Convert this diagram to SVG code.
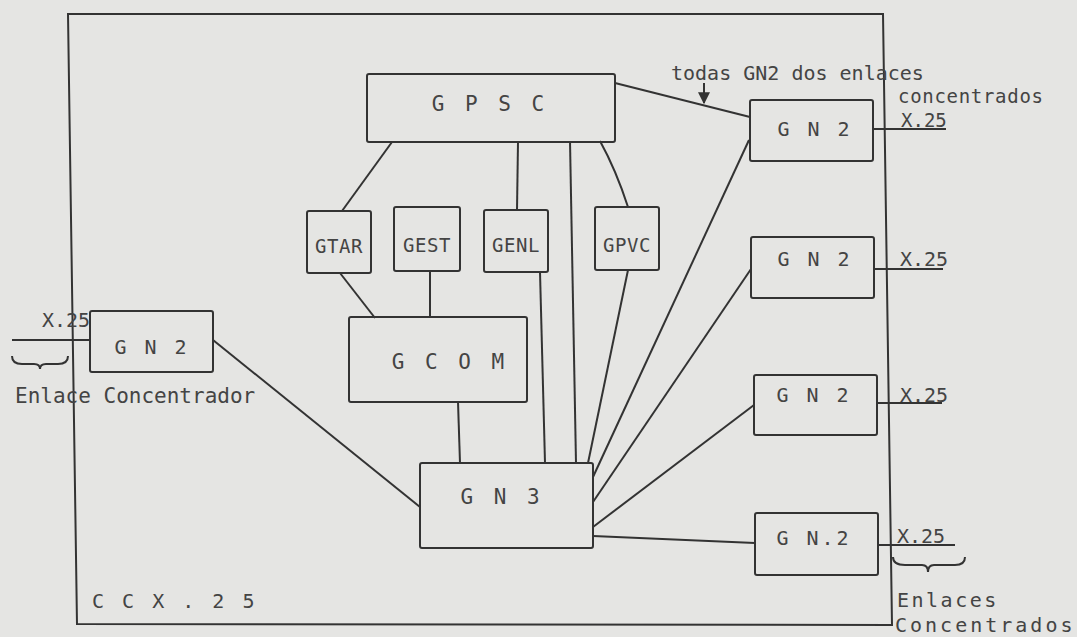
<svg xmlns="http://www.w3.org/2000/svg" width="1077" height="637" viewBox="0 0 1077 637">
<defs>
<style>
.bg{fill:#e5e5e3}
.box{fill:none;stroke:#333;stroke-width:2}
.ln{fill:none;stroke:#333;stroke-width:2}
.t{font-family:"DejaVu Sans Mono","Liberation Mono",monospace;fill:#444}
.big{font-size:21px;letter-spacing:4px;text-anchor:middle}
.gn2{font-size:20px;letter-spacing:3px;text-anchor:middle}
.sm{font-size:19px;letter-spacing:0.5px;text-anchor:middle}
.lab{font-size:20px}
</style>
<marker id="ah" viewBox="0 0 10 10" refX="9" refY="5" markerWidth="6" markerHeight="6" orient="auto">
<path d="M0,0 L10,5 L0,10 z" fill="#333"/>
</marker>
</defs>
<rect class="bg" x="0" y="0" width="1077" height="637"/>
<g id="frame">
<path class="ln" d="M68,14 L883,14 L892,625 L77,624 Z"/>
<text class="t lab" x="92" y="608" style="letter-spacing:3px">C C X . 2 5</text>
</g>
<g id="connectors">
<line class="ln" x1="615" y1="83" x2="750" y2="117"/>
<line class="ln" x1="392" y1="142" x2="342" y2="211"/>
<line class="ln" x1="518" y1="142" x2="517" y2="210"/>
<line class="ln" x1="570" y1="141" x2="576" y2="463"/>
<path class="ln" d="M600,141 Q616,170 628,207"/>
<line class="ln" x1="340" y1="273" x2="375" y2="318"/>
<line class="ln" x1="430" y1="271" x2="430" y2="318"/>
<line class="ln" x1="540" y1="272" x2="545" y2="463"/>
<line class="ln" x1="628" y1="270" x2="588" y2="463"/>
<line class="ln" x1="458" y1="402" x2="460" y2="463"/>
<line class="ln" x1="213" y1="340" x2="420" y2="507"/>
<line class="ln" x1="593" y1="477" x2="749" y2="140"/>
<line class="ln" x1="593" y1="502" x2="751" y2="269"/>
<line class="ln" x1="593" y1="527" x2="754" y2="405"/>
<line class="ln" x1="593" y1="536" x2="755" y2="543"/>
<line class="ln" x1="12" y1="340" x2="90" y2="340"/>
<line class="ln" x1="873" y1="129" x2="946" y2="129"/>
<line class="ln" x1="874" y1="269" x2="943" y2="269"/>
<line class="ln" x1="877" y1="403" x2="942" y2="403"/>
<line class="ln" x1="878" y1="545" x2="955" y2="545"/>
<line class="ln" x1="704" y1="83" x2="704" y2="103" marker-end="url(#ah)"/>
<path class="ln" d="M12,356 Q12,364 22,364 L34,364 Q40,364 40,369 Q40,364 46,364 L58,364 Q68,364 68,356"/>
<path class="ln" d="M893,557 Q893,565 905,565 L922,565 Q928,565 928,572 Q928,565 934,565 L955,565 Q965,565 965,557"/>
</g>
<g id="gpsc">
<rect class="box" x="367" y="74" width="248" height="68" rx="2"/>
<text class="t big" x="490" y="111">G P S C</text>
</g>
<g id="gtar">
<rect class="box" x="307" y="211" width="64" height="62" rx="2"/>
<text class="t sm" x="339" y="253">GTAR</text>
</g>
<g id="gest">
<rect class="box" x="394" y="207" width="66" height="64" rx="2"/>
<text class="t sm" x="427" y="252">GEST</text>
</g>
<g id="genl">
<rect class="box" x="484" y="210" width="64" height="62" rx="2"/>
<text class="t sm" x="516" y="252">GENL</text>
</g>
<g id="gpvc">
<rect class="box" x="595" y="207" width="64" height="63" rx="2"/>
<text class="t sm" x="627" y="252">GPVC</text>
</g>
<g id="gcom">
<rect class="box" x="349" y="317" width="178" height="85" rx="2"/>
<text class="t big" x="450" y="369">G C O M</text>
</g>
<g id="gn3">
<rect class="box" x="420" y="463" width="173" height="85" rx="2"/>
<text class="t big" x="502" y="504">G N 3</text>
</g>
<g id="gn2-left">
<rect class="box" x="90" y="311" width="123" height="61" rx="2"/>
<text class="t gn2" x="152" y="354">G N 2</text>
<text class="t lab" x="42" y="327">X.25</text>
<text class="t lab" x="15" y="403" style="font-size:21px">Enlace Concentrador</text>
</g>
<g id="gn2-1">
<rect class="box" x="750" y="100" width="123" height="61" rx="2"/>
<text class="t gn2" x="815" y="136">G N 2</text>
<text class="t lab" x="901" y="127" style="font-size:19px">X.25</text>
</g>
<g id="gn2-2">
<rect class="box" x="751" y="237" width="123" height="61" rx="2"/>
<text class="t gn2" x="815" y="266">G N 2</text>
<text class="t lab" x="900" y="266">X.25</text>
</g>
<g id="gn2-3">
<rect class="box" x="754" y="375" width="123" height="60" rx="2"/>
<text class="t gn2" x="814" y="402">G N 2</text>
<text class="t lab" x="900" y="402">X.25</text>
</g>
<g id="gn2-4">
<rect class="box" x="755" y="513" width="123" height="62" rx="2"/>
<text class="t gn2" x="814" y="545">G N.2</text>
<text class="t lab" x="897" y="543">X.25</text>
</g>
<g id="labels">
<text class="t lab" x="671" y="80">todas GN2 dos enlaces</text>
<text class="t lab" x="898" y="103" style="font-size:19px;letter-spacing:0.7px">concentrados</text>
<text class="t lab" x="897" y="607" style="font-size:20px;letter-spacing:2.5px">Enlaces</text>
<text class="t lab" x="895" y="632" style="font-size:20px;letter-spacing:3px">Concentrados</text>
</g>
</svg>
